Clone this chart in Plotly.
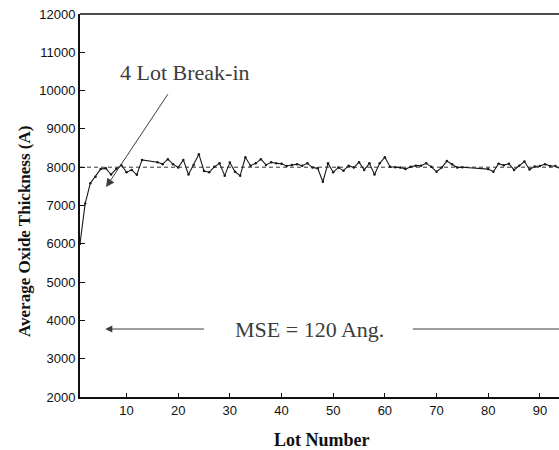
import plotly.graph_objects as go

# Lot numbers (lots 14-15 and 76-79 are not plotted in the original)
lots = list(range(1, 14)) + list(range(16, 76)) + list(range(80, 95))
thickness = [
    6000, 7050, 7580, 7750, 7950, 7970, 7810, 7950, 8050, 7870, 7930, 7800, 8190,
    8130, 8080, 8210, 8080, 7990, 8190, 7810, 8060, 8340, 7900, 7870, 8010, 8100,
    7780, 8120, 7880, 7780, 8260, 8040, 8100, 8210, 8060, 8130, 8100, 8090, 8030,
    8060, 8080, 8040, 8100, 7990, 7970, 7620, 8100, 7870, 7990, 7910, 8040, 7990,
    8130, 7930, 8100, 7810, 8100, 8260, 8010, 8000, 7990, 7950, 8010, 8040, 8040,
    8100, 8010, 7880, 7990, 8160, 8080, 7990, 8000,
    7950, 7880, 8090, 8050, 8090, 7930, 8040, 8150, 7940, 8020, 8030, 8080, 8030,
    8030, 7950,
]
target = 8000
x_ticks = [10, 20, 30, 40, 50, 60, 70, 80, 90]
y_ticks = list(range(2000, 12001, 1000))
y_tick_labels = [str(v) for v in y_ticks]

x_min, x_max = 1, 93.7
y_min, y_max = 2000, 12000

fig = go.Figure()

# target dashed line
fig.add_trace(go.Scatter(
    x=[x_min, x_max], y=[target, target], mode="lines",
    line=dict(color="#333333", width=1, dash="4px,3px"),
    hoverinfo="skip", showlegend=False,
))

fig.add_trace(go.Scatter(
    x=lots, y=thickness, mode="lines+markers",
    line=dict(color="#1a1a1a", width=1.1),
    marker=dict(color="#1a1a1a", size=2.5),
    showlegend=False,
))

ann_color = "#3c3c3c"
serif = "Liberation Serif, Times New Roman, serif"

annotations = [
    # Break-in label and arrow
    dict(x=21.3, y=10460, xref="x", yref="y", text="4 Lot Break-in",
         xanchor="center", yanchor="middle",
         showarrow=False, font=dict(family=serif, size=22, color=ann_color)),
    dict(x=6.05, y=7480, xref="x", yref="y", ax=18.2, ay=9945,
         axref="x", ayref="y", text="", showarrow=True,
         arrowhead=2, arrowsize=1.7, arrowwidth=1, arrowcolor=ann_color),
    # MSE label and arrows
    dict(x=45.5, y=3775, xref="x", yref="y", text="MSE = 120 Ang.",
         xanchor="center", yanchor="middle",
         showarrow=False, font=dict(family=serif, size=22, color=ann_color)),
    dict(x=5.9, y=3775, xref="x", yref="y", ax=25.3, ay=3775,
         axref="x", ayref="y", text="", showarrow=True,
         arrowhead=2, arrowsize=1.4, arrowwidth=1, arrowcolor=ann_color),
    # axis titles
    dict(x=0.505, y=-0.112, xref="paper", yref="paper", text="<b>Lot Number</b>",
         xanchor="center", yanchor="middle",
         showarrow=False, font=dict(family=serif, size=18, color="#111111")),
    dict(x=-0.1148, y=0.431, xref="paper", yref="paper",
         text="<b>Average Oxide Thickness (A)</b>", textangle=-90,
         xanchor="center", yanchor="middle",
         showarrow=False, font=dict(family=serif, size=17, color="#111111")),
]

shapes = [
    dict(type="line", xref="x", yref="y", x0=65.4, x1=x_max, y0=3775, y1=3775,
         line=dict(color=ann_color, width=1)),
    # top border
    dict(type="line", xref="paper", yref="paper", x0=0, x1=1, y0=1, y1=1,
         line=dict(color="#111111", width=1.5)),
]

fig.update_layout(
    width=559, height=450,
    margin=dict(l=80, r=0, t=14, b=53),
    paper_bgcolor="white", plot_bgcolor="white",
    annotations=annotations, shapes=shapes,
    font=dict(family="Liberation Sans, Arial, sans-serif", size=13, color="#111111"),
)
fig.update_xaxes(
    range=[x_min, x_max], tickvals=x_ticks, ticks="inside", ticklen=4,
    tickcolor="#111111", showline=True, linecolor="#111111", linewidth=2,
    showgrid=False, zeroline=False,
)
fig.update_yaxes(
    range=[y_min, y_max], tickvals=y_ticks, ticktext=y_tick_labels,
    ticks="inside", ticklen=5,
    tickcolor="#111111", showline=True, linecolor="#111111", linewidth=2,
    showgrid=False, zeroline=False,
)

fig.write_html("out.html", config={"displayModeBar": False},
               post_script="document.body.style.margin='0';")
